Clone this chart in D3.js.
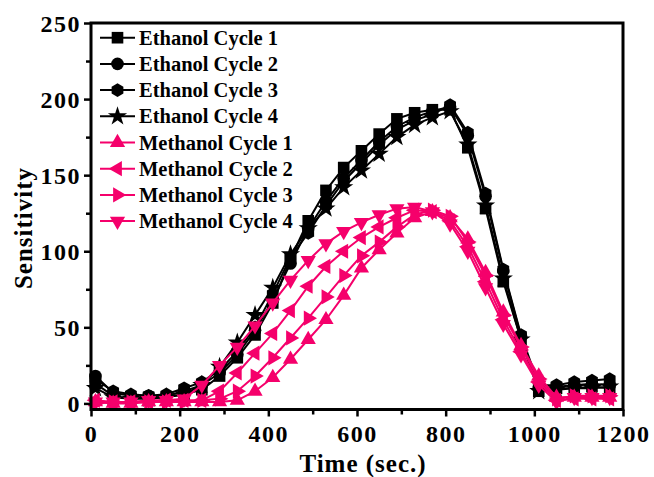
<!DOCTYPE html>
<html><head><meta charset="utf-8">
<script src="https://cdn.jsdelivr.net/npm/d3@7"></script>
<style>body{margin:0;background:#fff}svg{display:block}text{font-family:"Liberation Serif","Times New Roman",serif;font-weight:bold}</style>
</head><body><svg id="c" width="654" height="477"></svg>
<script>
const times = [10,50,90,130,170,210,250,290,330,370,410,450,490,530,570,610,650,690,730,770,810,850,890,930,970,1010,1050,1090,1130,1170];
const ethanol1 = [13,5,3,4,4,6,9,18,30,45,66,95,120,140,155,166,177,187,191,193,193,168,128,80,42,8,10,10,11,10];
const ethanol2 = [18,7,5,5,5,8,12,20,32,48,68,92,115,133,148,160,172,182,188,192,195,176,136,87,44,10,11,12,13,12];
const ethanol3 = [16,8,6,5,6,10,14,22,34,50,72,96,112,130,146,158,170,180,186,190,196,178,138,88,45,12,12,14,15,16];
const ethanol4 = [10,4,3,3,4,6,12,24,40,58,76,98,115,128,142,153,164,175,183,188,192,170,130,82,42,8,9,10,10,11];
const methanol1 = [1,0,0,1,1,1,1,1,2,8,17,29,42,55,71,89,101,112,122,126,122,108,86,60,38,18,4,4,4,4];
const methanol2 = [2,1,1,1,2,2,2,8,20,33,46,61,77,90,100,109,116,122,127,126,120,103,80,55,34,14,2,3,3,3];
const methanol3 = [0,1,1,1,1,1,2,3,8,18,30,43,56,70,84,97,106,116,124,127,123,106,84,58,37,16,3,5,5,5];
const methanol4 = [1,1,1,2,2,3,12,25,37,51,66,81,94,105,113,119,124,128,129,126,118,100,76,52,32,12,1,4,4,4];
const seriesNames = ["Ethanol Cycle 1","Ethanol Cycle 2","Ethanol Cycle 3","Ethanol Cycle 4","Methanol Cycle 1","Methanol Cycle 2","Methanol Cycle 3","Methanol Cycle 4"];
const seriesValues = [ethanol1,ethanol2,ethanol3,ethanol4,methanol1,methanol2,methanol3,methanol4];
const seriesShapes = ["square","circle","hexagon","star","triUp","triLeft","triRight","triDown"];
const xTicks = [0,200,400,600,800,1000,1200];
const yTicks = [0,50,100,150,200,250];

const BLACK = "#000", PINK = "#f5006b";
const colors = [BLACK,BLACK,BLACK,BLACK,PINK,PINK,PINK,PINK];

const svg = d3.select("#c");
const L=91,R=623,T=23,B=409.5;
const x = d3.scaleLinear().domain([0,1200]).range([L,R]);
const y = d3.scaleLinear().domain([-4,250]).range([B,T]);

function hexPath(r){
  const p=[];for(let i=0;i<6;i++){const a=Math.PI/6+i*Math.PI/3;p.push([r*Math.cos(a),r*Math.sin(a)]);}
  return "M"+p.map(d=>d.map(v=>v.toFixed(2)).join(",")).join("L")+"Z";
}
function triPath(r,rot){
  const p=[];for(let i=0;i<3;i++){const a=rot+i*2*Math.PI/3;p.push([r*Math.cos(a),r*Math.sin(a)]);}
  return "M"+p.map(d=>d.map(v=>v.toFixed(2)).join(",")).join("L")+"Z";
}
function shapePath(s){
  switch(s){
    case "square": return d3.symbol(d3.symbolSquare,135)();
    case "circle": return d3.symbol(d3.symbolCircle,125)();
    case "hexagon": return hexPath(6.8);
    case "star": return d3.symbol(d3.symbolStar,115)();
    case "triUp": return triPath(8.8,-Math.PI/2);
    case "triDown": return triPath(8.8,Math.PI/2);
    case "triLeft": return triPath(8.8,Math.PI);
    case "triRight": return triPath(8.8,0);
  }
}

const line = d3.line().x((d,i)=>x(times[i])).y(d=>y(d));
const g = svg.append("g");
seriesValues.forEach((vals,k)=>{
  const sg = g.append("g");
  sg.append("path").attr("d",line(vals)).attr("fill","none").attr("stroke",colors[k]).attr("stroke-width",2);
  sg.selectAll("path.m").data(vals).enter().append("path").attr("class","m")
    .attr("d",shapePath(seriesShapes[k]))
    .attr("transform",(d,i)=>`translate(${x(times[i])},${y(d)})`)
    .attr("fill",colors[k]);
});

// frame
svg.append("rect").attr("x",L).attr("y",T).attr("width",R-L).attr("height",B-T)
  .attr("fill","none").attr("stroke","#000").attr("stroke-width",3);

// axes ticks
const xAxis = d3.axisBottom(x).tickValues(xTicks).tickSize(7).tickFormat(d3.format("d"));
const xMinor = d3.axisBottom(x).tickValues(d3.range(100,1200,200)).tickSize(5).tickFormat("");
const yAxis = d3.axisLeft(y).tickValues(yTicks).tickSize(7).tickFormat(d3.format("d"));
const yMinor = d3.axisLeft(y).tickValues(d3.range(25,250,50)).tickSize(5).tickFormat("");
function style(sel){sel.select(".domain").remove();sel.selectAll("line").attr("stroke","#000").attr("stroke-width",2.5);}
svg.append("g").attr("transform",`translate(0,${B})`).call(xAxis).call(style)
  .selectAll("text").attr("font-size",24).attr("dy","0.95em").attr("letter-spacing",1.5).attr("fill","#000").attr("font-family","'Liberation Serif',serif").attr("font-weight","bold");
svg.append("g").attr("transform",`translate(0,${B})`).call(xMinor).call(style);
svg.append("g").attr("transform",`translate(${L},0)`).call(yAxis).call(style)
  .selectAll("text").attr("font-size",24).attr("dy","0.35em").attr("letter-spacing",1.5).attr("x",-10).attr("fill","#000").attr("font-family","'Liberation Serif',serif").attr("font-weight","bold");
svg.append("g").attr("transform",`translate(${L},0)`).call(yMinor).call(style);

// axis titles
svg.append("text").attr("x",363).attr("y",472).attr("text-anchor","middle").attr("font-size",25).attr("letter-spacing",1).text("Time (sec.)");
svg.append("text").attr("transform","translate(32,228) rotate(-90)").attr("text-anchor","middle").attr("font-size",25).attr("letter-spacing",1).text("Sensitivity");

// legend
const lg = svg.append("g");
seriesNames.forEach((n,k)=>{
  const cy = 37.7+26.2*k;
  lg.append("line").attr("x1",100).attr("x2",135).attr("y1",cy).attr("y2",cy).attr("stroke",colors[k]).attr("stroke-width",2);
  lg.append("path").attr("d",shapePath(seriesShapes[k])).attr("transform",`translate(117.5,${cy})`).attr("fill",colors[k]);
  lg.append("text").attr("x",139).attr("y",cy+7).attr("font-size",20.5).attr("fill","#000").text(n);
});
</script></body></html>
